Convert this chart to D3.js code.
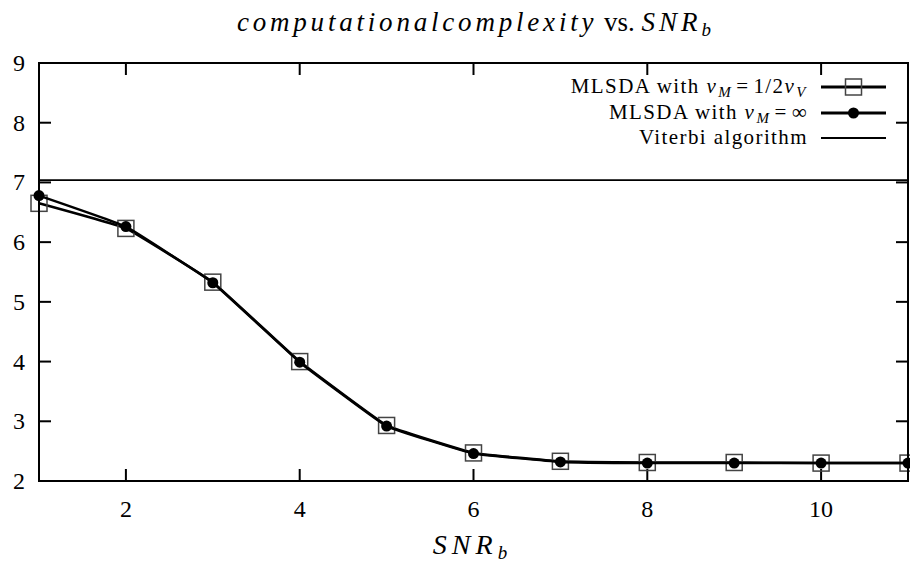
<!DOCTYPE html>
<html>
<head>
<meta charset="utf-8">
<script src="https://cdn.jsdelivr.net/npm/d3@7"></script>
<style>
  body { margin: 0; background: #fff; }
  svg text { font-family: "Liberation Serif", "DejaVu Serif", serif; fill: #000; }
</style>
</head>
<body>
<svg id="chart" width="910" height="563"></svg>
<script>
// SNR_b values (x axis)
var snr = [1, 2, 3, 4, 5, 6, 7, 8, 9, 10, 11];
// MLSDA with v_M = 1/2 v_V
var mlsdaHalf = [6.65, 6.23, 5.33, 4.00, 2.93, 2.47, 2.33, 2.31, 2.31, 2.30, 2.30];
// MLSDA with v_M = infinity
var mlsdaInf = [6.78, 6.26, 5.32, 3.99, 2.92, 2.46, 2.32, 2.30, 2.30, 2.30, 2.30];
// Viterbi algorithm (constant)
var viterbi = 7.04;
var xTicks = [2, 4, 6, 8, 10];
var yTicks = [2, 3, 4, 5, 6, 7, 8, 9];

var svg = d3.select("#chart");
var plotLeft = 39, plotRight = 908, plotTop = 63, plotBottom = 481;

var x = d3.scaleLinear().domain([1, 11]).range([plotLeft, plotRight]);
var y = d3.scaleLinear().domain([2, 9]).range([plotBottom, plotTop]);

// Title
var title = svg.append("text")
    .attr("x", 474).attr("y", 31)
    .attr("text-anchor", "middle")
    .attr("font-size", 27);
title.append("tspan").attr("font-style", "italic").attr("letter-spacing", 3.8).text("computationalcomplexity");
title.append("tspan").attr("letter-spacing", 0).text(" vs. ");
title.append("tspan").attr("font-style", "italic").attr("letter-spacing", 4).text("SNR");
title.append("tspan").attr("font-style", "italic").attr("font-size", 19).attr("dy", 5).text("b");

// Ticks on all four sides (mirror)
var tickLen = 12;
var ticks = svg.append("g").attr("stroke", "#000").attr("stroke-width", 2);
xTicks.forEach(function(t) {
    ticks.append("line").attr("x1", x(t)).attr("x2", x(t)).attr("y1", plotBottom).attr("y2", plotBottom - tickLen);
    ticks.append("line").attr("x1", x(t)).attr("x2", x(t)).attr("y1", plotTop).attr("y2", plotTop + tickLen);
});
yTicks.forEach(function(t) {
    ticks.append("line").attr("x1", plotLeft).attr("x2", plotLeft + tickLen).attr("y1", y(t)).attr("y2", y(t));
    ticks.append("line").attr("x1", plotRight).attr("x2", plotRight - tickLen).attr("y1", y(t)).attr("y2", y(t));
});

// Tick labels
svg.append("g").selectAll("text").data(xTicks).enter().append("text")
    .attr("x", function(d) { return x(d); })
    .attr("y", 517)
    .attr("text-anchor", "middle")
    .attr("font-size", 24)
    .text(function(d) { return d; });
svg.append("g").selectAll("text").data(yTicks).enter().append("text")
    .attr("x", 25)
    .attr("y", function(d) { return y(d) + 8; })
    .attr("text-anchor", "end")
    .attr("font-size", 24)
    .text(function(d) { return d; });

// X axis label
var xl = svg.append("text")
    .attr("x", 470).attr("y", 554)
    .attr("text-anchor", "middle")
    .attr("font-size", 28)
    .attr("font-style", "italic");
xl.append("tspan").attr("letter-spacing", 5).text("SNR");
xl.append("tspan").attr("font-size", 19).attr("dy", 5).text("b");

// Series
var line = d3.line()
    .x(function(d, i) { return x(snr[i]); })
    .y(function(d) { return y(d); })
    .curve(d3.curveCardinal.tension(0.75));

var plot = svg.append("g");

plot.append("path").datum(mlsdaHalf)
    .attr("d", line).attr("fill", "none")
    .attr("stroke", "#000").attr("stroke-width", 2.5);
plot.selectAll("rect.sq").data(mlsdaHalf).enter().append("rect")
    .attr("class", "sq")
    .attr("x", function(d, i) { return x(snr[i]) - 8; })
    .attr("y", function(d) { return y(d) - 8; })
    .attr("width", 16).attr("height", 16)
    .attr("fill", "none").attr("stroke", "#444").attr("stroke-width", 1.5);

plot.append("path").datum(mlsdaInf)
    .attr("d", line).attr("fill", "none")
    .attr("stroke", "#000").attr("stroke-width", 2.5);
plot.selectAll("circle.dot").data(mlsdaInf).enter().append("circle")
    .attr("class", "dot")
    .attr("cx", function(d, i) { return x(snr[i]); })
    .attr("cy", function(d) { return y(d); })
    .attr("r", 5.5)
    .attr("fill", "#000");

plot.append("line")
    .attr("x1", plotLeft).attr("x2", plotRight)
    .attr("y1", y(viterbi)).attr("y2", y(viterbi))
    .attr("stroke", "#000").attr("stroke-width", 1.8);

// Frame
svg.append("rect")
    .attr("x", plotLeft).attr("y", plotTop)
    .attr("width", plotRight - plotLeft).attr("height", plotBottom - plotTop)
    .attr("fill", "none").attr("stroke", "#000").attr("stroke-width", 2);

// Legend
var legend = svg.append("g");
var lx1 = 821, lx2 = 886, ltx = 808;
var rows = [87, 113, 138];

function mathLabel(g, yy, parts) {
    var t = g.append("text").attr("x", ltx).attr("y", yy + 6)
        .attr("text-anchor", "end").attr("font-size", 21)
        .attr("letter-spacing", 1.4);
    parts.forEach(function(p) {
        var s = t.append("tspan").text(p.s);
        if (p.it) s.attr("font-style", "italic").attr("letter-spacing", 2.5);
        if (p.sub) s.attr("font-size", 15).attr("dy", 4);
        if (p.up) s.attr("dy", -4);
        if (p.dx) s.attr("dx", p.dx);
    });
}

mathLabel(legend, rows[0], [
    {s: "MLSDA with "}, {s: "v", it: true}, {s: "M", it: true, sub: true},
    {s: "=", up: true, dx: 3}, {s: "1/2", dx: 4}, {s: "v", it: true}, {s: "V", it: true, sub: true}
]);
mathLabel(legend, rows[1], [
    {s: "MLSDA with "}, {s: "v", it: true}, {s: "M", it: true, sub: true},
    {s: "=", up: true, dx: 3}, {s: "\u221E", dx: 4}
]);
mathLabel(legend, rows[2], [{s: "Viterbi algorithm"}]);

legend.append("line").attr("x1", lx1).attr("x2", lx2).attr("y1", rows[0]).attr("y2", rows[0])
    .attr("stroke", "#000").attr("stroke-width", 3);
legend.append("rect").attr("x", (lx1 + lx2) / 2 - 8).attr("y", rows[0] - 8)
    .attr("width", 16).attr("height", 16)
    .attr("fill", "none").attr("stroke", "#444").attr("stroke-width", 1.5);
legend.append("line").attr("x1", lx1).attr("x2", lx2).attr("y1", rows[1]).attr("y2", rows[1])
    .attr("stroke", "#000").attr("stroke-width", 3);
legend.append("circle").attr("cx", (lx1 + lx2) / 2).attr("cy", rows[1]).attr("r", 5.5).attr("fill", "#000");
legend.append("line").attr("x1", lx1).attr("x2", lx2).attr("y1", rows[2]).attr("y2", rows[2])
    .attr("stroke", "#000").attr("stroke-width", 2);
</script>
</body>
</html>
